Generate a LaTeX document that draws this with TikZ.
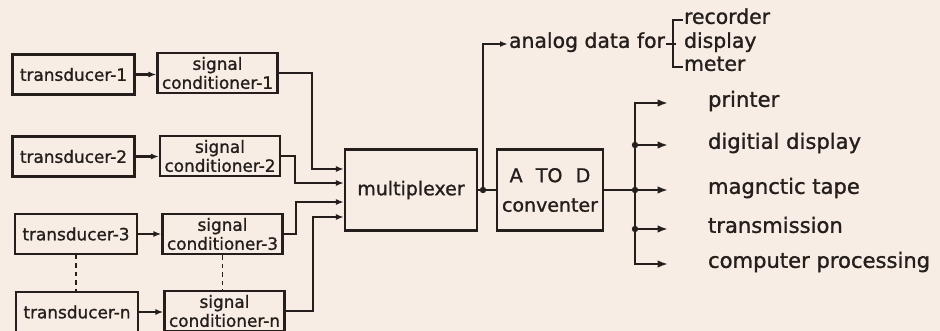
\documentclass[tikz,border=0pt]{standalone}
\usepackage{fontspec}
\setmainfont{DejaVu Sans}[FakeBold=1.2]
\usetikzlibrary{arrows.meta}
\definecolor{paper}{HTML}{F8EDE5}
\definecolor{ink}{HTML}{241F1C}

\begin{document}
\begin{tikzpicture}[x=0.25mm, y=-0.25mm, line width=1.5pt, draw=ink, text=ink,
  box/.style={draw, line width=1.5pt, inner sep=1pt, align=center, font=\fontsize{12}{13.5}\selectfont},
  trans/.style={box, minimum width=30.5mm, minimum height=10mm},
  cond/.style={box, minimum width=30mm, minimum height=10.2mm},
  big/.style={box, minimum height=20.25mm, font=\fontsize{13.5}{21}\selectfont},
  lab/.style={inner sep=0pt, anchor=mid west, font=\fontsize{14.5}{16}\selectfont},
  arr/.style={-{Latex[length=2mm, width=1.5mm]}},
  arrb/.style={-{Latex[length=2.6mm, width=1.9mm]}}]
\fill[paper] (0,0) rectangle (940,331);
\useasboundingbox (0,0) rectangle (940,331);
% sensors and conditioners
\node[trans] (t1) at (73.5,74.5) {transducer-1};
\node[cond] (s1) at (217.5,73) {signal\\conditioner-1};
\node[trans] (t2) at (73.5,156.5) {transducer-2};
\node[cond] (s2) at (220,156) {signal\\conditioner-2};
\node[trans] (t3) at (76,234) {transducer-3};
\node[cond] (s3) at (222.5,234) {signal\\conditioner-3};
\node[trans] (tn) at (77,312) {transducer-n};
\node[cond] (sn) at (224.5,311) {signal\\conditioner-n};
\foreach \i in {1,2,3,n}
  \draw[arr] (t\i.east) -- (t\i.east -| s\i.west);
\draw[dashed, line width=1.2pt] (t3.south) -- (t3.south |- tn.north);
\draw[dashed, line width=1.2pt] (s3.south) -- (s3.south |- sn.north);
% multiplexer and converter
\node[big, minimum width=33mm] (mux) at (411,190) {multiplexer};
\node[big, minimum width=26.5mm] (adc) at (550,190) {A\hspace{0.7em}TO\hspace{0.7em}D\\conventer};
\foreach \s/\x/\y in {s1/312/169, s2/295/183, s3/296/202, sn/313/217}
  \draw[arr] (\s.east) -| (\x,\y) -- (mux.west |- \x,\y);
\coordinate (j) at (483,190);
\draw (mux.east) -- (adc.west);
\fill[ink] (j) circle[radius=0.8mm];
% analog branch
\node[lab] (ana) at (508,44) {analog data for};
\draw[arr] (j) |- (ana.mid west);
\draw (ana.mid east) -- ++(10,0) coordinate (br);
\node[lab, anchor=mid west] (rec) at (683,20) {recorder};
\node[lab] (dis) at (683,44) {display};
\node[lab] (met) at (683,67) {meter};
\draw (rec.mid west) -- ++(-10,0) |- (met.mid west);
% digital outputs
\coordinate (bus) at (635,190);
\draw (adc.east) -- (bus);
\foreach \y/\t [count=\i] in {103/printer, 145/digitial display, 190/magnctic tape, 229/transmission, 264/computer processing} {
  \coordinate (out\i) at (668,\y);
  \node[lab, font=\fontsize{15}{16}\selectfont] (lab\i) at (707,\y) {\t};
}
\draw[arrb] (bus) |- (out1);
\draw[arrb] (bus) |- (out5);
\foreach \i in {2,3,4} {
  \draw[arrb] (bus |- out\i) -- (out\i);
  \fill[ink] (bus |- out\i) circle[radius=0.8mm];
}
\end{tikzpicture}
\end{document}
